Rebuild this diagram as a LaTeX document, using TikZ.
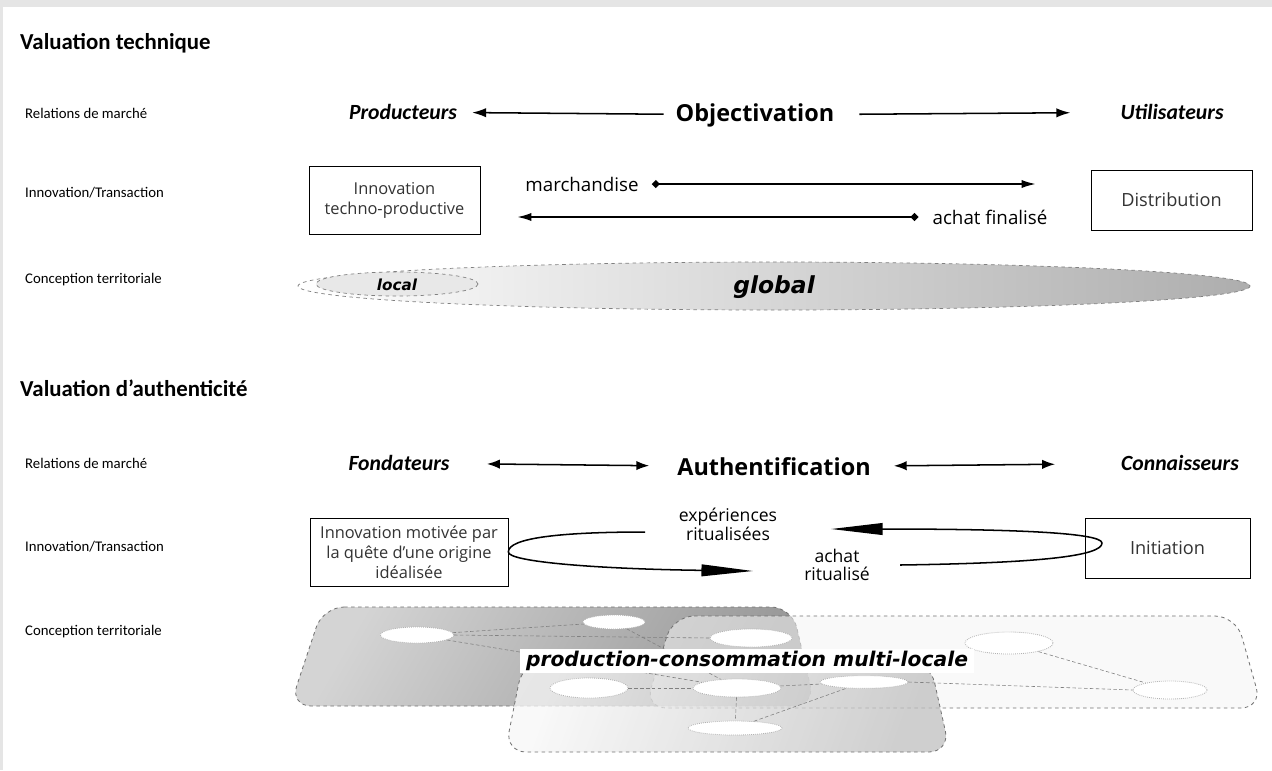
\documentclass[tikz,border=0pt]{standalone}
\usepackage{fontspec}
\setmainfont{Carlito}
\newfontfamily\osans{Open Sans}
\newfontfamily\vsans{DejaVu Sans}
\usepackage{tikz}
\usetikzlibrary{arrows.meta,positioning,calc,shapes.geometric}

\begin{document}
\begin{tikzpicture}[
  x=0.03cm, y=-0.03cm,
  head/.style={anchor=west, inner sep=0pt, font=\bfseries\fontsize{19.5}{22}\selectfont},
  rowlbl/.style={anchor=west, inner sep=0pt, font=\fontsize{12.6}{15}\selectfont},
  actor/.style={font=\bfseries\itshape\fontsize{18.5}{22}\selectfont},
  key/.style={font=\osans\bfseries\fontsize{20}{24}\selectfont},
  box/.style={draw, line width=0.6pt, align=center, text=black!80, font=\osans\fontsize{14}{17}\selectfont},
  flow/.style={font=\osans\fontsize{16}{18}\selectfont, align=center},
  ritual/.style={font=\osans\fontsize{15}{16}\selectfont, align=center},
  terr/.style={font=\vsans\bfseries\itshape\fontsize{17.3}{20}\selectfont},
  arr/.style={-{Latex[length=12pt,width=8pt]}, line width=1.3pt},
  darr/.style={{Latex[length=11pt,width=8pt]}-{Latex[length=11pt,width=8pt]}, line width=1.3pt},
  farr/.style={{Diamond[length=7pt,width=7pt]}-{Latex[length=12pt,width=7pt]}, line width=1.3pt},
  loop/.style={-{Triangle[length=44pt,width=10pt]}, line width=1.3pt},
  zone/.style={draw=black!55, dashed, line width=0.7pt, rounded corners=18pt},
  place/.style={ellipse, draw=black!30, densely dotted, fill=white, line width=0.7pt},
  link/.style={draw=black!50, densely dashed, line width=0.5pt}
]
\fill[black!10] (0,0) rectangle (1272,770);
\fill[white] (3,7) rectangle (1272,770);
\useasboundingbox (0,0) rectangle (1272,770);

% --- technical valuation
\node[head] (vtech) at (20,43) {Valuation technique};
\node[rowlbl] (rel1) at (25,113) {Relations de marché};
\node[actor] (prod) at (403,112) {Producteurs};
\node[key] (objv) at (755,115) {Objectivation};
\node[actor] (util) at (1172,112) {Utilisateurs};
\draw[arr, shorten <=0.24cm, shorten >=0.33cm] (objv) -- (prod);
\draw[arr, shorten <=0.63cm, shorten >=1.38cm] (objv) -- (util);

\node[rowlbl] (inn1) at (25,193) {Innovation/Transaction};
\node[box, minimum width=5.13cm, minimum height=2.04cm] (techno) at (394.5,200) {Innovation\\techno-productive};
\node[box, font=\osans\fontsize{15.5}{18}\selectfont, minimum width=4.83cm, minimum height=1.8cm] (distr) at (1171.5,200) {Distribution};
\node[flow] (march) at (582,184) {marchandise};
\node[flow] (final) at (990,217) {achat finalisé};
\draw[farr, shorten <=0.27cm, shorten >=1.65cm] (march.east) -- (march.east -| distr.west);
\draw[farr, shorten <=0.3cm, shorten >=1.11cm] (final.west) -- (final.west -| techno.east);

\node[rowlbl] (terr1) at (25,280) {Conception territoriale};
\shade[left color=white, right color=black!32, draw=black!50, dashed, line width=0.6pt] (774,286) ellipse [x radius=476, y radius=24];
\filldraw[fill=black!9, draw=black!50, dashed, line width=0.6pt] (397,284) ellipse [x radius=81, y radius=12];
\node[terr, font=\vsans\bfseries\itshape\fontsize{13}{15}\selectfont] (loc) at (397,285) {local};
\node[terr, font=\vsans\bfseries\itshape\fontsize{20}{22}\selectfont] (glob) at (774,287) {global};

% --- authenticity valuation
\node[head] (vauth) at (20,388) {Valuation d’authenticité};
\node[rowlbl] (rel2) at (25,463) {Relations de marché};
\node[actor] (fond) at (399,463) {Fondateurs};
\node[key] (auth) at (774,467) {Authentification};
\node[actor] (conn) at (1180,463) {Connaisseurs};
\draw[darr, shorten <=1.0cm, shorten >=0.72cm] (fond) -- (auth);
\draw[darr, shorten <=0.57cm, shorten >=1.86cm] (auth) -- (conn);

\node[rowlbl] (inn2) at (25,547) {Innovation/Transaction};
\node[box, minimum width=5.94cm, minimum height=2.04cm] (quete) at (409,552) {Innovation motivée par\\la quête d’une origine\\idéalisée};
\node[box, font=\osans\fontsize{15.5}{18}\selectfont, minimum width=4.95cm, minimum height=1.8cm] (init) at (1167.5,548) {Initiation};
\node[ritual] (exper) at (728,524) {expériences\\ritualisées};
\node[ritual] (ritu) at (837,565) {achat\\ritualisé};
\coordinate (lpA) at (645,532);
\coordinate (lpB) at (753,571);
\coordinate (lpC) at (900,565);
\coordinate (lpD) at (831,529);
\coordinate (lpTip) at (1102,543);
\draw[loop] (lpA) .. controls (560,532) and (508,538) .. (quete.east) .. controls (508,562) and (600,569) .. (lpB);
\draw[loop] (lpC) .. controls (1040,563) and (1102,556) .. (lpTip) .. controls (1102,532) and (1000,529) .. (lpD);

\node[rowlbl] (terr2) at (25,632) {Conception territoriale};
\shade[zone, left color=black!17, right color=black!40, shading angle=60] (323,607) -- (792,607) -- (815,706) -- (290,706) -- cycle;
\fill[zone, fill=black!4, fill opacity=0.55] (673,616) -- (1236,616) -- (1262,708) -- (645,708) -- cycle;
\shade[zone, left color=black!3, right color=black!25, shading angle=70, fill opacity=0.75] (523,662) -- (930,662) -- (950,752) -- (505,752) -- cycle;

\node[place, minimum width=2.2cm, minimum height=0.48cm] (p1) at (417,635) {};
\node[place, minimum width=1.86cm, minimum height=0.42cm] (p2) at (614,622) {};
\node[place, minimum width=2.46cm, minimum height=0.54cm] (p3) at (751,638) {};
\node[place, minimum width=2.34cm, minimum height=0.6cm] (p4) at (589,688) {};
\node[place, minimum width=2.64cm, minimum height=0.54cm] (p5) at (737,688) {};
\node[place, minimum width=2.64cm, minimum height=0.38cm] (p6) at (864,682) {};
\node[place, minimum width=2.82cm, minimum height=0.42cm] (p7) at (735,728) {};
\node[place, minimum width=2.64cm, minimum height=0.66cm] (p8) at (1009,643) {};
\node[place, minimum width=2.22cm, minimum height=0.54cm] (p9) at (1170,690) {};
\draw[link] (p1) -- (p2);
\draw[link] (p1.east) -- (p3.west);
\draw[link] (p1) -- (p5);
\draw[link] (p2) -- (p5);
\draw[link] (p4) -- (p5);
\draw[link] (p5) -- (p7);
\draw[link] (p5) -- (p6);
\draw[link] (p7) -- (p6);
\draw[link] (p6.east) -- (p9.west);
\draw[link] (p8) -- (p9);
\node[terr, fill=white, inner xsep=5pt, inner ysep=2pt] (multi) at (747,661) {production-consommation multi-locale};
\end{tikzpicture}
\end{document}
